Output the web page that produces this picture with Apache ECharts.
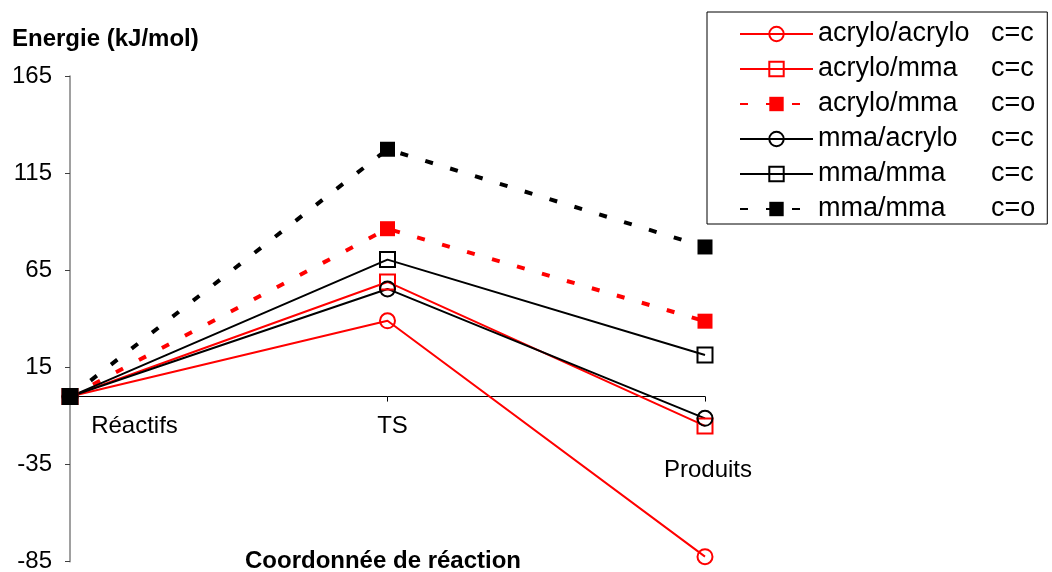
<!DOCTYPE html>
<html>
<head>
<meta charset="utf-8">
<script src="https://cdn.jsdelivr.net/npm/echarts@6/dist/echarts.min.js"></script>
<style>
  html, body { margin: 0; padding: 0; background: #ffffff; }
  #chart { width: 1052px; height: 572px; }
</style>
</head>
<body>
<div id="chart"></div>
<script>
// Reaction path: reactants -> transition state -> products
const categories = ['Réactifs', 'TS', 'Produits'];
const yTickLabels = [-85, -35, 15, 65, 115, 165];

// Energies (kJ/mol) per reaction pair and addition mode
const acryloAcryloCC = [0, 39, -82.4];
const acryloMmaCC = [0, 59, -15.1];
const acryloMmaCO = [0, 86.4, 38.8];
const mmaAcryloCC = [0, 55.4, -11.2];
const mmaMmaCC = [0, 70.5, 21.4];
const mmaMmaCO = [0, 127.3, 77];

const seriesNames = [
  'acrylo/acrylo c=c',
  'acrylo/mma c=c',
  'acrylo/mma c=o',
  'mma/acrylo c=c',
  'mma/mma c=c',
  'mma/mma c=o'
];

const FONT = '"Liberation Sans", Arial, sans-serif';
const RED = '#ff0000';
const BLACK = '#000000';

const CHART_H = 572;
const GRID = { left: 70, right: 347, top: 76, bottom: 10.3 };
const yMin = yTickLabels[0];
const yMax = yTickLabels[yTickLabels.length - 1];
// Lift the category axis from the grid bottom up to the zero energy level
const gridHeight = CHART_H - GRID.top - GRID.bottom;
const xAxisOffset = -((0 - yMin) / (yMax - yMin)) * gridHeight;

function openMarkerSeries(name, data, color, symbol) {
  return {
    name, type: 'line', data, symbol, symbolSize: 15,
    lineStyle: { color, width: 2, type: 'solid' },
    itemStyle: { color: 'transparent', borderColor: color, borderWidth: 2 },
    emphasis: { disabled: true }
  };
}
function dashedFilledSeries(name, data, color) {
  return {
    name, type: 'line', data, symbol: 'rect', symbolSize: 15,
    lineStyle: { color, width: 4, type: [8, 18] },
    itemStyle: { color, borderWidth: 0 },
    emphasis: { disabled: true }
  };
}

// Per-category label offsets under the axis (left padding shifts the centred label right)
const labelPadding = { 'Réactifs': [0, 0, 0, 129], 'TS': [0, 0, 0, 10], 'Produits': [0, 0, 0, 6] };
const categoryItems = categories.map(function (c) {
  return { value: c, textStyle: { padding: labelPadding[c] } };
});

const chart = echarts.init(document.getElementById('chart'), null, { renderer: 'canvas' });
chart.setOption({
  animation: false,
  backgroundColor: '#ffffff',
  textStyle: { fontFamily: FONT },
  title: [
    {
      text: 'Energie (kJ/mol)', left: 12, top: 27, padding: 0,
      textStyle: { fontFamily: FONT, fontSize: 24, fontWeight: 'bold', color: '#000' }
    },
    {
      text: 'Coordonnée de réaction', left: 383, top: 549, padding: 0, textAlign: 'center',
      textStyle: { fontFamily: FONT, fontSize: 24, fontWeight: 'bold', color: '#000' }
    }
  ],
  legend: {
    orient: 'vertical', left: 707, top: 12,
    padding: [7, 12, 0, 32],
    itemGap: 5, itemWidth: 73, itemHeight: 18,
    borderColor: '#000', borderWidth: 1, backgroundColor: '#fff',
    selectedMode: false,
    data: seriesNames,
    formatter: function (name) {
      const i = name.lastIndexOf(' ');
      return '{n|' + name.slice(0, i) + '}{c|' + name.slice(i + 1) + '}';
    },
    textStyle: {
      fontFamily: FONT, fontSize: 27, color: '#000', lineHeight: 30,
      rich: {
        n: { width: 173, fontSize: 27, fontFamily: FONT },
        c: { fontSize: 27, fontFamily: FONT }
      }
    }
  },
  grid: Object.assign({ outerBoundsMode: 'none' }, GRID),
  xAxis: {
    type: 'category', data: categoryItems, boundaryGap: false,
    position: 'bottom', offset: xAxisOffset,
    axisLine: { onZero: false, lineStyle: { color: '#000', width: 1 } },
    axisTick: { show: true, alignWithLabel: true, length: 5, lineStyle: { color: '#000', width: 1 } },
    axisLabel: {
      show: true, interval: 0, margin: 19, fontSize: 24, color: '#000', fontFamily: FONT,
      lineHeight: 22, hideOverlap: false, showMinLabel: true, showMaxLabel: true,
      formatter: function (v) {
        return v === 'Produits' ? '\n\n' + v : v;
      }
    },
    splitLine: { show: false }
  },
  yAxis: {
    type: 'value',
    min: yMin, max: yMax,
    interval: yTickLabels[1] - yTickLabels[0],
    axisLine: { show: true, lineStyle: { color: '#808080', width: 1.5 } },
    axisTick: { show: true, length: 5, lineStyle: { color: '#404040', width: 1 } },
    axisLabel: { margin: 18, fontSize: 24, color: '#000', fontFamily: FONT },
    splitLine: { show: false }
  },
  series: [
    openMarkerSeries(seriesNames[0], acryloAcryloCC, RED, 'circle'),
    openMarkerSeries(seriesNames[1], acryloMmaCC, RED, 'rect'),
    dashedFilledSeries(seriesNames[2], acryloMmaCO, RED),
    openMarkerSeries(seriesNames[3], mmaAcryloCC, BLACK, 'circle'),
    openMarkerSeries(seriesNames[4], mmaMmaCC, BLACK, 'rect'),
    dashedFilledSeries(seriesNames[5], mmaMmaCO, BLACK)
  ]
});
</script>
</body>
</html>
